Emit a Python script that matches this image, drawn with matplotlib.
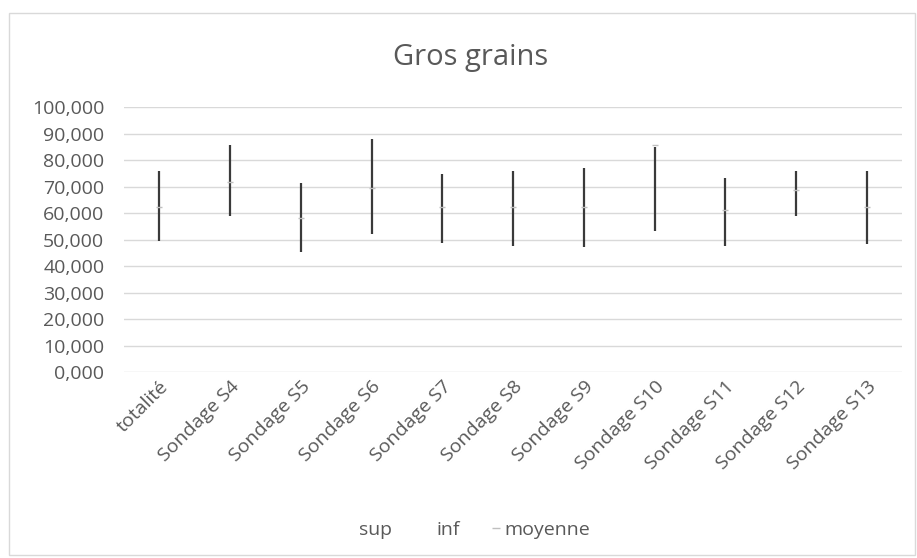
import numpy as np
import matplotlib.pyplot as plt
from matplotlib.lines import Line2D
from matplotlib.patches import Rectangle
from matplotlib.ticker import FuncFormatter

categories = ['totalité', 'Sondage S4', 'Sondage S5', 'Sondage S6', 'Sondage S7',
              'Sondage S8', 'Sondage S9', 'Sondage S10', 'Sondage S11',
              'Sondage S12', 'Sondage S13']
sup = [75.8, 85.7, 71.2, 87.8, 74.7, 75.8, 77.2, 84.8, 73.1, 76.0, 76.0]
inf = [49.5, 58.9, 45.2, 52.3, 48.9, 47.5, 47.3, 53.2, 47.5, 59.0, 48.3]
moyenne = [62.4, 71.8, 58.0, 69.4, 62.4, 62.4, 62.4, 85.7, 61.1, 68.7, 62.4]

plt.rcParams['font.family'] = ['Open Sans', 'DejaVu Sans']
grey_txt = '#595959'

fig = plt.figure(figsize=(9.17, 5.58), dpi=100)
# chart area border
fig.patches.append(Rectangle((9 / 917, 3 / 558), 906 / 917, 542 / 558,
                             transform=fig.transFigure, fill=False,
                             edgecolor='#d9d9d9', linewidth=1))

ax = fig.add_axes([0.135, 0.333, 0.849, 0.475])
x = np.arange(len(categories))

ax.vlines(x, inf, sup, color='#3a3a3a', linewidth=1.6, zorder=3)
ax.plot(x, moyenne, linestyle='none', marker='_', markersize=5,
        color='#bfbfbf', zorder=4)

ax.set_xlim(-0.5, len(categories) - 0.5)
ax.set_ylim(0, 100)
ax.set_yticks(np.arange(0, 101, 10))
ax.yaxis.set_major_formatter(FuncFormatter(lambda v, p: f'{v:.3f}'.replace('.', ',')))
ax.grid(axis='y', color='#d9d9d9', linewidth=1)
ax.set_axisbelow(True)
for s in ax.spines.values():
    s.set_visible(False)
ax.tick_params(axis='both', length=0, colors=grey_txt, labelsize=14)
ax.tick_params(axis='y', pad=14)
ax.tick_params(axis='x', pad=4)

ax.set_xticks(x)
ax.set_xticklabels(categories, rotation=45, ha='right', rotation_mode='anchor')

fig.text(0.513, 0.897, 'Gros grains', ha='center', va='center',
         fontsize=21, color=grey_txt)

handles = [Line2D([], [], linestyle='none'),
           Line2D([], [], linestyle='none'),
           Line2D([], [], linestyle='none', marker='_', markersize=6, color='#bfbfbf')]
fig.legend(handles, ['sup', 'inf', 'moyenne'], loc='center',
           bbox_to_anchor=(0.51, 0.05), ncol=3, frameon=False,
           fontsize=14, labelcolor=grey_txt, handlelength=0.5,
           handletextpad=0.2, columnspacing=1.6)

fig.savefig('out.png', dpi=100)
